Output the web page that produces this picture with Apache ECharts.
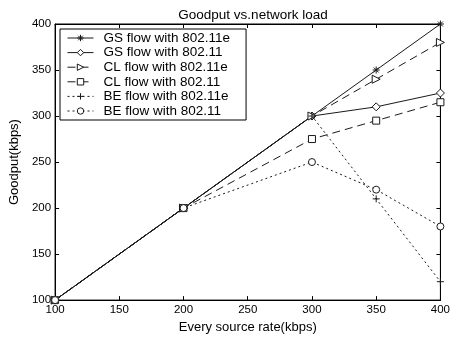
<!DOCTYPE html>
<html>
<head>
<meta charset="utf-8">
<script src="https://cdn.jsdelivr.net/npm/echarts@6/dist/echarts.min.js"></script>
<style>html,body{margin:0;padding:0;background:#fff}#c{width:453px;height:339px}</style>
</head>
<body>
<div id="c"></div>
<script>
var xValues = [100, 200, 300, 350, 400];
var seriesNames = ['GS flow with 802.11e', 'GS flow with 802.11', 'CL flow with 802.11e', 'CL flow with 802.11', 'BE flow with 802.11e', 'BE flow with 802.11'];
var gsE = [100, 200, 300, 350, 400];
var gs = [100, 200, 300, 310, 325];
var clE = [100, 200, 300, 340, 380];
var cl = [100, 200, 275, 295, 315];
var beE = [100, 200, 300, 210, 120];
var be = [100, 200, 250, 220, 180];
var xTicks = [100, 150, 200, 250, 300, 350, 400];
var yTicks = [100, 150, 200, 250, 300, 350, 400];

var ink = '#1a1a1a';
function pairs(v){ return xValues.map(function(x,i){ return [x, v[i]]; }); }
var asterisk = 'path://M5,0L5,10M0,5L10,5M1.5,1.5L8.5,8.5M8.5,1.5L1.5,8.5';
var plus = 'path://M5,0L5,10M0,5L10,5';
function mk(name, data, symbol, size, dash, rot){
  return {
    name: name, type: 'line', data: pairs(data),
    symbol: symbol, symbolSize: size, symbolRotate: rot || 0,
    showAllSymbol: true,
    lineStyle: {color: ink, width: 1, type: dash},
    itemStyle: {color: '#fff', borderColor: ink, borderWidth: 1},
    emphasis: {disabled: true},
    animation: false
  };
}
var font = 'Arial, "Liberation Sans", sans-serif';
var chart = echarts.init(document.getElementById('c'));
chart.setOption({
  backgroundColor: '#fff',
  animation: false,
  title: {text: 'Goodput vs.network load', left: 248, textAlign: 'center', top: 3,
    textStyle: {fontFamily: font, fontSize: 13.5, fontWeight: 'normal', color: '#000'}},
  grid: {left: 55, right: 12, top: 24, bottom: 37, show: true, borderColor: '#000', borderWidth: 1},
  legend: {
    data: seriesNames, orient: 'vertical', left: 60, top: 29,
    backgroundColor: '#fff', borderColor: '#000', borderWidth: 1,
    padding: [2, 16, 2, 7], itemWidth: 26, itemHeight: 8, itemGap: 0.6,
    itemStyle: {borderWidth: 1},
    lineStyle: {width: 1},
    textStyle: {fontFamily: font, fontSize: 13.5, color: '#000', lineHeight: 11, padding: [0, 0, 0, 5]}
  },
  xAxis: [{
    type: 'value', min: 100, max: 400, interval: 50,
    name: 'Every source rate(kbps)', nameLocation: 'middle', nameGap: 16,
    nameTextStyle: {fontFamily: font, fontSize: 13, color: '#000'},
    axisLine: {lineStyle: {color: '#000'}},
    axisTick: {inside: true, length: 4, lineStyle: {color: '#000'}},
    axisLabel: {fontFamily: font, fontSize: 11.5, color: '#000', margin: 4,
      formatter: function(v){ return xTicks.indexOf(v) >= 0 ? String(v) : ''; }},
    splitLine: {show: false}
  }, {
    type: 'value', min: 100, max: 400, interval: 50, position: 'top',
    axisLine: {lineStyle: {color: '#000'}},
    axisTick: {inside: true, length: 4, lineStyle: {color: '#000'}},
    axisLabel: {show: false}, splitLine: {show: false}
  }],
  yAxis: [{
    type: 'value', min: 100, max: 400, interval: 50,
    name: 'Goodput(kbps)', nameLocation: 'middle', nameGap: 23,
    nameTextStyle: {fontFamily: font, fontSize: 13, color: '#000'},
    axisLine: {show: true, lineStyle: {color: '#000'}},
    axisTick: {show: true, inside: true, length: 4, lineStyle: {color: '#000'}},
    axisLabel: {fontFamily: font, fontSize: 11.5, color: '#000', margin: 4,
      formatter: function(v){ return yTicks.indexOf(v) >= 0 ? String(v) : ''; }},
    splitLine: {show: false}
  }, {
    type: 'value', min: 100, max: 400, interval: 50, position: 'right',
    axisLine: {show: true, lineStyle: {color: '#000'}},
    axisTick: {show: true, inside: true, length: 4, lineStyle: {color: '#000'}},
    axisLabel: {show: false}, splitLine: {show: false}
  }],
  series: [
    mk(seriesNames[0], gsE, asterisk, 7, 'solid'),
    mk(seriesNames[1], gs, 'diamond', 8, 'solid'),
    mk(seriesNames[2], clE, 'triangle', 8, [8, 5], -90),
    mk(seriesNames[3], cl, 'rect', 7, [8, 5]),
    mk(seriesNames[4], beE, plus, 7, [2, 3]),
    mk(seriesNames[5], be, 'circle', 7, [2, 3])
  ]
});
</script>
</body>
</html>
